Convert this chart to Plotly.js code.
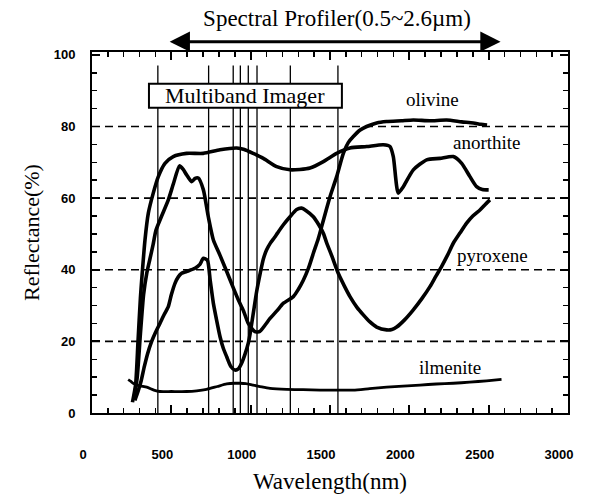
<!DOCTYPE html>
<html>
<head>
<meta charset="utf-8">
<script src="https://cdn.plot.ly/plotly-3.0.1.min.js"></script>
<style>html,body{margin:0;padding:0;background:#fff;}#chart{width:599px;height:497px;}</style>
</head>
<body>
<div id="chart"></div>
<script>
// Wavelength (nm) / reflectance (%)
const olivineX = [265,285,305,325,345,365,385,403,439,481,513,551,575,596,628,650,670,702,733,765,807,849,890,922,955,985,1027,1058,1090,1122,1165,1205,1269,1300,1331,1365,1395,1425,1447,1475,1500,1542,1584,1615,1647,1690,1731,1794,1857,1950,2025,2130,2235,2330,2403,2450,2490];
const olivineY = [4,10,22,33,39,43,47,51,55,59.5,64,69,68,66.5,64.6,65.5,65.6,62.3,54.8,48.3,44,39.5,35,31.6,28.5,25,22.7,22.8,24.5,26.4,28.5,30.6,32.5,34.5,37,40.5,44.6,48.5,52,56.5,60.4,66,72.5,75.5,77.2,79,80,81,81.4,81.6,81.8,81.6,81.8,81.3,81,80.6,80.4];

const anorthiteX = [255,275,290,305,313,334,355,386,418,460,512,596,701,807,912,960,1016,1080,1164,1248,1310,1374,1458,1542,1626,1731,1836,1878,1899,1930,1962,2025,2109,2193,2277,2330,2382,2424,2460,2500];
const anorthiteY = [3,8,20,32,37,48.3,55.8,61.4,66,69.7,71.6,72.5,72.5,73.5,74,73.6,72.5,71.1,68.8,67.9,68,68.4,70.2,72.5,74,74.4,74.9,74.4,71.6,61.4,63.2,67.9,70.7,71.1,71.6,69.7,66,63.2,62.4,62.3];

const pyroxeneX = [270,290,310,330,350,376,400,428,455,481,500,523,544,565,596,649,680,702,727,745,765,785,807,828,849,875,901,922,943,965,985,996,1017,1038,1060,1080,1100,1125,1150,1170,1205,1248,1290,1321,1350,1395,1430,1458,1479,1510,1552,1590,1626,1670,1710,1750,1794,1857,1890,1920,1970,2025,2080,2130,2165,2203,2240,2277,2320,2361,2400,2445,2480,2508];
const pyroxeneY = [3.5,6,9,13,16.5,20,22.5,25,27.5,29.7,33,36.2,38,39,39.5,40.4,41.5,43.2,42.7,37,30.6,26,21.3,18,15.7,13,12,12.3,13.9,16.5,19.5,22,28,34,39,43,45.5,47.5,49,50.3,52.5,54.8,56.8,57.2,56.5,54.8,52.5,50.2,47.5,44,39,35.5,32.5,29.5,27.4,25.5,24,23.2,23.3,24,26,28.8,32,35.3,38,40.9,44,47.4,50.3,53,55,56.7,58.3,59.5];

const ilmeniteX = [228,245,262,300,345,390,428,500,596,660,722,790,849,900,932,970,1016,1070,1122,1227,1330,1437,1540,1647,1750,1857,1960,2067,2170,2277,2380,2487,2581];
const ilmeniteY = [9.3,8.8,8.2,7.6,7.2,6.4,6,6,6,6.2,6.6,7.4,8.1,8.3,8.3,8.2,7.8,7.3,6.9,6.6,6.5,6.4,6.4,6.4,6.8,7.2,7.5,7.8,8.1,8.3,8.6,9,9.4];

// Multiband Imager band positions (nm) as drawn
const bands = [415,735,890,935,985,1040,1250,1550];
const gridLevels = [20,40,60,80];
const xTicks = [0,500,1000,1500,2000,2500,3000];
const yTicks = [0,20,40,60,80,100];
const profilerRange = [480,2575];
const imagerBox = [359,1575,85.2,91.9];

const labels = [
  {text:'olivine', x:2149, y:87.4},
  {text:'anorthite', x:2489, y:75.4},
  {text:'pyroxene', x:2527, y:44},
  {text:'ilmenite', x:2256, y:12.8}
];

const serif = 'Liberation Serif, Times New Roman, serif';
const sans = 'Liberation Sans, Arial, sans-serif';

function curve(name, x, y, w) {
  return {type:'scatter', mode:'lines', name:name, x:x, y:y,
          line:{color:'black', width:w, shape:'spline', smoothing:0.6}, showlegend:false, hoverinfo:'skip'};
}

const traces = [
  curve('olivine', olivineX, olivineY, 3.6),
  curve('anorthite', anorthiteX, anorthiteY, 3.6),
  curve('pyroxene', pyroxeneX, pyroxeneY, 3.6),
  curve('ilmenite', ilmeniteX, ilmeniteY, 2.8)
];

const shapes = [];
gridLevels.forEach(v => shapes.push({type:'line', xref:'x', yref:'y', x0:0, x1:3000, y0:v, y1:v,
  line:{color:'black', width:1.6, dash:'8px,5px'}, layer:'below'}));
bands.forEach(b => shapes.push({type:'line', xref:'x', yref:'y', x0:b, x1:b, y0:0, y1:97,
  line:{color:'black', width:1.3}, layer:'below'}));
shapes.push({type:'rect', xref:'x', yref:'y', x0:imagerBox[0], x1:imagerBox[1], y0:imagerBox[2], y1:imagerBox[3],
  fillcolor:'white', line:{color:'black', width:2}, layer:'above'});

const annotations = labels.map(l => ({text:l.text, x:l.x, y:l.y, xref:'x', yref:'y', showarrow:false,
  font:{family:serif, size:19, color:'black'}}));
annotations.push({text:'Multiband Imager', x:(imagerBox[0]+imagerBox[1])/2, y:(imagerBox[2]+imagerBox[3])/2,
  xref:'x', yref:'y', showarrow:false, font:{family:serif, size:22, color:'black'}});
annotations.push({text:'', x:profilerRange[1], y:1.0285, xref:'x', yref:'paper',
  ax:profilerRange[0], ay:0, axref:'x', ayref:'pixel', showarrow:true,
  arrowhead:2, startarrowhead:2, arrowside:'end+start', arrowsize:1.35, startarrowsize:1.35,
  arrowwidth:3, arrowcolor:'black', standoff:0, startstandoff:0});

const axisCommon = {
  showline:true, linewidth:2, linecolor:'black', mirror:'ticks',
  ticks:'inside', ticklen:8, tickwidth:1.8, tickcolor:'#000000',
  showgrid:false, zeroline:false, automargin:false,
  tickfont:{family:sans, size:13, color:'black', weight:'bold'}
};

const layout = {
  width:599, height:497,
  margin:{l:92, r:31, t:52, b:84},
  paper_bgcolor:'white', plot_bgcolor:'white',
  showlegend:false,
  title:{text:'Spectral Profiler(0.5~2.6µm)', font:{family:serif, size:23, color:'black'},
         x:337/599, xanchor:'center', xref:'container', y:1-18/497, yanchor:'middle', yref:'container'},
  xaxis:Object.assign({}, axisCommon, {
    range:[0,3000], tickmode:'linear', tick0:xTicks[0], dtick:xTicks[1]-xTicks[0],
    ticklabelstandoff:28, ticklabelshift:-9,
    minor:{dtick:100, ticks:'inside', ticklen:5, tickwidth:1.5, tickcolor:'#000000', showgrid:false},
    title:{text:'Wavelength(nm)', font:{family:serif, size:23, color:'black'}, standoff:12}
  }),
  yaxis:Object.assign({}, axisCommon, {
    range:[0,100.8], tickmode:'linear', tick0:yTicks[0], dtick:yTicks[1]-yTicks[0],
    ticklabelstandoff:12,
    minor:{dtick:5, ticks:'inside', ticklen:5, tickwidth:1.5, tickcolor:'#000000', showgrid:false},
    title:{text:'Reflectance(%)', font:{family:serif, size:22, color:'black'}, standoff:8}
  }),
  shapes:shapes,
  annotations:annotations
};

Plotly.newPlot('chart', traces, layout, {displayModeBar:false, staticPlot:true});
</script>
</body>
</html>
